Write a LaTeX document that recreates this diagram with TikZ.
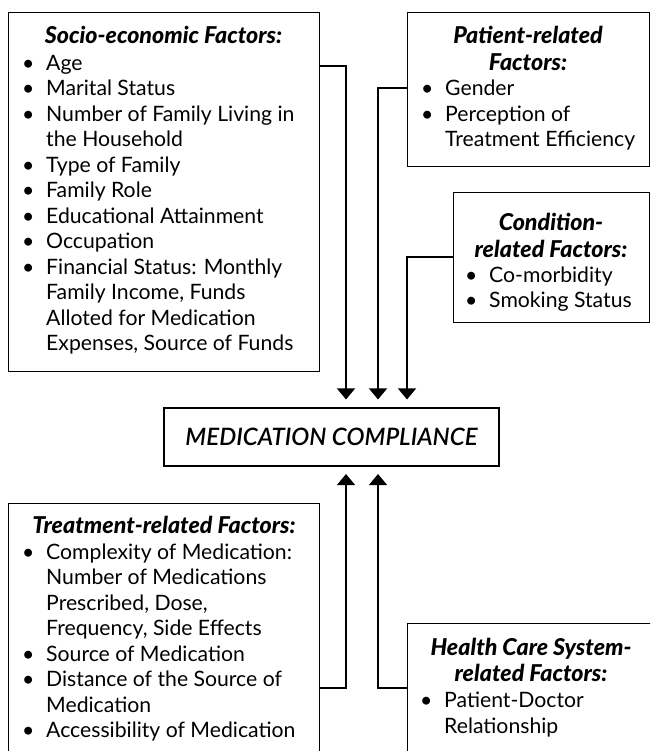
\documentclass[tikz,border=0pt]{standalone}
\usepackage{fontspec}
\setmainfont{Lato}
\IfFontExistsTF{Lato Black Italic}{\newfontface\ttlface{Lato Black Italic}}{\newfontface\ttlface{Lato Bold Italic}}
\IfFontExistsTF{Lato Semibold Italic}{\newfontface\mcface{Lato Semibold Italic}}{\newfontface\mcface{Lato Italic}}
\usetikzlibrary{arrows.meta}
\newcommand\bul{\makebox[24pt][l]{\textbullet}}
\newcommand\ind{\hspace*{24pt}}
\begin{document}
\begin{tikzpicture}[x=1pt,y=-1pt,
  box/.style={draw, line width=1.1pt, inner sep=0pt, anchor=north west},
  ttl/.style={font=\fontsize{23.2}{26.5}\selectfont\ttlface, inner sep=0pt, anchor=base, align=center},
  lst/.style={font=\fontsize{21.2}{25.5}\selectfont, inner sep=0pt, anchor=base west, align=left},
  arr/.style={line width=1.1pt, -{Triangle[width=18pt,length=11pt]}}]
\clip (0,0) rectangle (650,751);
\fill[white] (0,0) rectangle (650,751);
% boxes
\node[box, minimum width=311pt, minimum height=359pt] (se) at (8,12) {};
\node[box, minimum width=242pt, minimum height=154pt] (pr) at (407,12) {};
\node[box, minimum width=196pt, minimum height=130pt] (cr) at (453,192) {};
\node[box, minimum width=311pt, minimum height=300pt] (tr) at (8,503) {};
\node[box, minimum width=260pt, minimum height=200pt] (hc) at (407,623) {};
\node[draw, line width=1.1pt, inner sep=0pt, minimum width=335pt, minimum height=58pt,
      font=\fontsize{24}{28}\selectfont\mcface] (mc) at (331.5,437) {MEDICATION COMPLIANCE};
% titles (anchor = baseline of last line)
\node[ttl] (set) at (163.5,43.5) {Socio-economic Factors:};
\node[ttl] (prt) at (528,70.5) {Patient-related\\Factors:};
\node[ttl] (crt) at (551,257) {Condition-\\related Factors:};
\node[ttl] (trt) at (164,533) {Treatment-related Factors:};
\node[ttl] (hct) at (531,681.5) {Health Care System-\\related Factors:};
% lists (anchor = baseline of last line)
\node[lst] (sel) at (22,350.5) {\bul Age\\ \bul Marital Status\\ \bul Number of Family Living in\\ \ind the Household\\ \bul Type of Family\\ \bul Family Role\\ \bul Educational Attainment\\ \bul Occupation\\ \bul Financial Status: Monthly\\ \ind Family Income, Funds\\ \ind Alloted for Medication\\ \ind Expenses, Source of Funds};
\node[lst] (prl) at (421,147) {\bul Gender\\ \bul Perception of\\ \ind Treatment Efficiency};
\node[lst] (crl) at (465,307.5) {\bul Co-morbidity\\ \bul Smoking Status};
\node[lst] (trl) at (22,737.5) {\bul Complexity of Medication:\\ \ind Number of Medications\\ \ind Prescribed, Dose,\\ \ind Frequency, Side Effects\\ \bul Source of Medication\\ \bul Distance of the Source of\\ \ind Medication\\ \bul Accessibility of Medication};
\node[lst] (hcl) at (420,733) {\bul Patient-Doctor\\ \ind Relationship};
% connectors
\coordinate (a1) at (346,0);
\coordinate (a2) at (378,0);
\coordinate (a3) at (407,0);
\draw[arr] ([yshift=-54pt]se.north east) -| ([yshift=8pt]mc.north -| a1);
\draw[arr] ([yshift=-76pt]pr.north west) -| ([yshift=8pt]mc.north -| a2);
\draw[arr] ([yshift=-65pt]cr.north west) -| ([yshift=8pt]mc.north -| a3);
\draw[arr] ([yshift=-185pt]tr.north east) -| ([yshift=-7.5pt]mc.south -| a1);
\draw[arr] ([yshift=-65pt]hc.north west) -| ([yshift=-7.5pt]mc.south -| a2);
\end{tikzpicture}
\end{document}
